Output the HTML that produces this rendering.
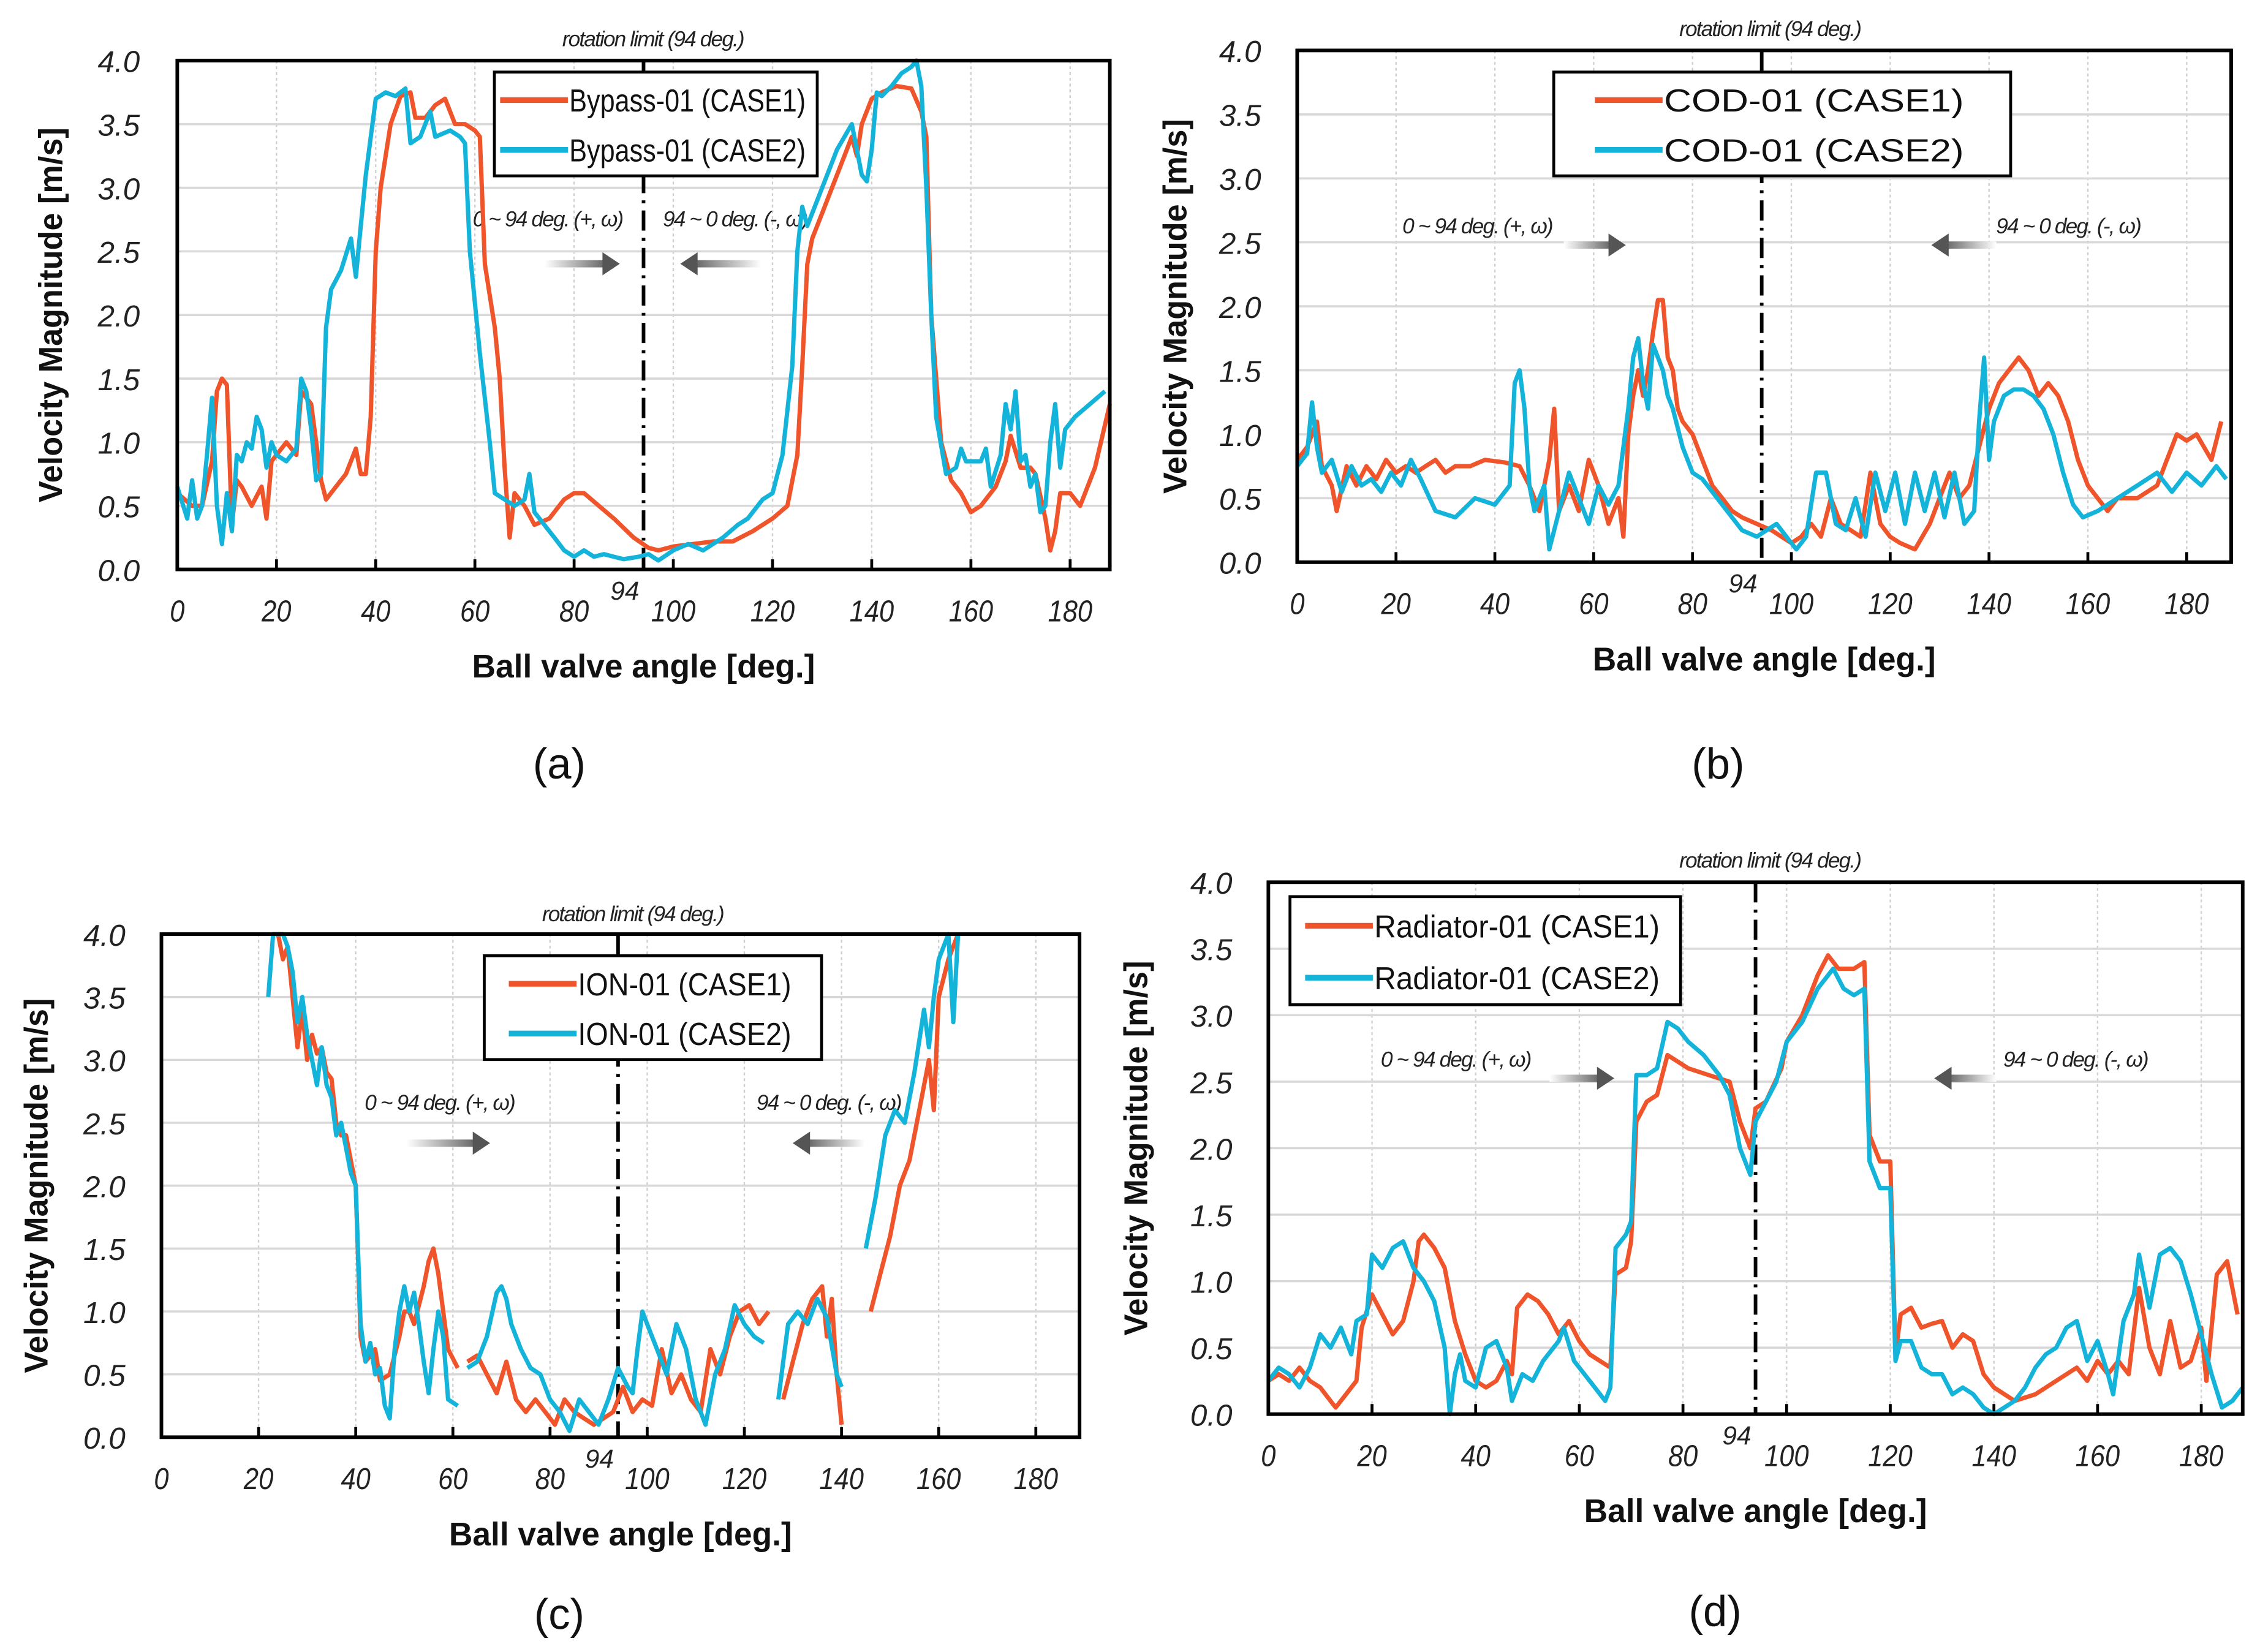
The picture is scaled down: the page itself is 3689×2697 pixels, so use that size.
<!DOCTYPE html>
<html><head><meta charset="utf-8">
<style>
html,body{margin:0;padding:0;background:#fff;}
svg{display:block;}
text{font-family:"Liberation Sans",sans-serif;}
</style></head>
<body>
<svg id="fig" xmlns="http://www.w3.org/2000/svg" width="3689" height="2697" viewBox="0 0 1568 1146" preserveAspectRatio="none"></svg>
<script>
// ---- data arrays ----
const xTicks = [0,20,40,60,80,100,120,140,160,180];
const xTickLabels = ["0","20","40","60","80","100","120","140","160","180"];
const yTicks = [0,0.5,1,1.5,2,2.5,3,3.5,4];
const yTickLabels = ["0.0","0.5","1.0","1.5","2.0","2.5","3.0","3.5","4.0"];
const limitAngle = 94;

const aX1 = [0,3,5,7,8,9,10,11,12,13,15,17,18,19,20,22,24,25,27,29,30,32,34,36,37,38,39,40,41,43,45,47,48,50,52,54,56,58,60,61,62,64,65,66,67,68,70,72,75,78,80,82,85,88,92,95,97,100,104,108,112,116,120,123,125,126,127,128,130,133,136,137,138,140,142,145,148,150,151,152,154,156,158,160,162,165,167,168,170,172,173,175,176,177,178,180,182,185,188];
const aY1 = [0.6,0.5,0.5,0.85,1.4,1.5,1.45,0.35,0.7,0.65,0.5,0.65,0.4,0.85,0.9,1.0,0.9,1.4,1.3,0.7,0.55,0.65,0.75,0.95,0.75,0.75,1.2,2.5,3.0,3.5,3.72,3.75,3.55,3.55,3.65,3.7,3.5,3.5,3.45,3.4,2.4,1.9,1.5,0.8,0.25,0.6,0.5,0.35,0.4,0.55,0.6,0.6,0.5,0.4,0.25,0.17,0.15,0.18,0.2,0.22,0.22,0.3,0.4,0.5,0.9,1.6,2.4,2.6,2.8,3.1,3.4,3.25,3.5,3.7,3.75,3.8,3.78,3.6,3.4,2.0,1.0,0.7,0.6,0.45,0.5,0.65,0.85,1.05,0.8,0.8,0.75,0.4,0.15,0.3,0.6,0.6,0.5,0.8,1.3];
const aX2 = [0,2,3,4,5,6,7,8,9,10,11,12,13,14,15,16,17,18,19,20,22,24,25,26,27,28,29,30,31,33,35,36,37,38,40,42,44,46,47,49,51,52,55,57,58,59,61,63,64,66,68,70,71,72,74,76,78,80,82,84,86,88,90,93,95,97,100,103,106,110,113,115,118,120,122,124,125,126,127,128,130,133,136,137,138,139,140,141,142,144,146,148,149,150,151,152,153,155,157,158,159,160,162,163,164,166,167,168,169,170,171,172,173,174,175,176,177,178,179,181,184,187];
const aY2 = [0.65,0.4,0.7,0.4,0.5,0.9,1.35,0.5,0.2,0.6,0.3,0.9,0.85,1.0,0.95,1.2,1.1,0.8,1.0,0.9,0.85,0.95,1.5,1.4,1.1,0.7,0.75,1.9,2.2,2.35,2.6,2.3,2.7,3.1,3.7,3.75,3.72,3.78,3.35,3.4,3.6,3.4,3.45,3.4,3.35,2.5,1.7,1.0,0.6,0.55,0.5,0.55,0.75,0.45,0.35,0.25,0.15,0.1,0.15,0.1,0.12,0.1,0.08,0.1,0.12,0.07,0.15,0.2,0.15,0.25,0.35,0.4,0.55,0.6,0.9,1.6,2.5,2.85,2.7,2.8,3.0,3.3,3.5,3.3,3.1,3.05,3.3,3.75,3.72,3.8,3.9,3.95,4.0,3.8,3.0,2.0,1.2,0.75,0.8,0.95,0.85,0.85,0.85,0.95,0.65,0.9,1.3,1.1,1.4,0.85,0.9,0.65,0.75,0.45,0.5,1.0,1.3,0.8,1.1,1.2,1.3,1.4];

const bX1 = [0,2,4,5,7,8,10,12,14,16,18,20,22,24,26,28,30,32,35,38,42,45,47,49,51,52,53,55,57,59,61,63,65,66,67,68,69,70,71,72,73,74,75,76,77,78,80,82,84,86,88,90,93,96,98,100,102,104,106,108,110,112,114,116,118,120,122,125,128,130,132,134,136,138,140,142,144,146,148,150,152,154,156,158,160,162,164,166,170,174,176,178,180,182,185,187];
const bY1 = [0.8,0.9,1.1,0.75,0.6,0.4,0.75,0.6,0.75,0.65,0.8,0.7,0.75,0.7,0.75,0.8,0.7,0.75,0.75,0.8,0.78,0.75,0.6,0.4,0.8,1.2,0.4,0.6,0.4,0.8,0.6,0.3,0.5,0.2,1.0,1.3,1.5,1.3,1.5,1.8,2.05,2.05,1.6,1.5,1.2,1.1,1.0,0.8,0.6,0.5,0.4,0.35,0.3,0.25,0.2,0.15,0.2,0.3,0.2,0.5,0.3,0.25,0.2,0.7,0.3,0.2,0.15,0.1,0.3,0.5,0.7,0.5,0.6,0.9,1.2,1.4,1.5,1.6,1.5,1.3,1.4,1.3,1.1,0.8,0.6,0.5,0.4,0.5,0.5,0.6,0.8,1.0,0.95,1.0,0.8,1.1];
const bX2 = [0,2,3,4,5,7,9,11,13,15,17,19,21,23,25,28,32,36,40,43,44,45,46,47,48,50,51,53,55,57,59,61,63,65,67,68,69,70,71,72,73,74,75,76,78,80,82,85,88,90,93,95,97,99,101,103,105,107,109,111,113,115,117,119,121,123,125,127,129,131,133,135,137,138,139,140,141,143,145,147,149,151,153,155,157,159,162,166,170,174,177,180,183,186,188];
const bY2 = [0.75,0.85,1.25,0.9,0.7,0.8,0.55,0.75,0.6,0.65,0.55,0.7,0.6,0.8,0.65,0.4,0.35,0.5,0.45,0.6,1.4,1.5,1.2,0.6,0.4,0.6,0.1,0.4,0.7,0.5,0.3,0.6,0.45,0.6,1.2,1.6,1.75,1.4,1.2,1.7,1.6,1.5,1.3,1.2,0.9,0.7,0.65,0.5,0.35,0.25,0.2,0.25,0.3,0.2,0.1,0.2,0.7,0.7,0.3,0.25,0.5,0.2,0.7,0.4,0.7,0.3,0.7,0.4,0.7,0.35,0.7,0.3,0.4,1.1,1.6,0.8,1.1,1.3,1.35,1.35,1.3,1.2,1.0,0.7,0.45,0.35,0.4,0.5,0.6,0.7,0.55,0.7,0.6,0.75,0.65];

const cX1 = [24,25,26,27,28,29,30,31,32,33,34,35,36,37,38,39,40,41,42,44,45,47,49,50,51,52,54,55,56,57,58,59,61,null,63,65,67,69,71,73,75,77,79,81,83,85,87,89,91,93,95,96,97,99,101,103,105,107,109,111,113,115,117,119,121,123,125,null,128,130,132,134,136,137,138,139,140,null,146,148,150,152,154,156,158,159,160,162,164];
const cY1 = [4.0,3.8,3.9,3.5,3.1,3.4,3.0,3.2,3.05,3.1,2.9,2.85,2.5,2.4,2.4,2.2,2.0,0.8,0.6,0.7,0.45,0.5,0.8,1.0,1.0,0.9,1.2,1.4,1.5,1.3,1.0,0.7,0.55,null,0.6,0.65,0.5,0.35,0.6,0.3,0.2,0.3,0.2,0.1,0.3,0.2,0.15,0.1,0.15,0.2,0.4,0.3,0.2,0.3,0.25,0.7,0.35,0.5,0.3,0.2,0.7,0.5,0.8,1.0,1.05,0.9,1.0,null,0.3,0.6,0.9,1.1,1.2,0.8,1.1,0.5,0.1,null,1.0,1.3,1.6,2.0,2.2,2.6,3.0,2.6,3.5,3.8,4.0];
const cX2 = [22,23,25,26,27,28,29,30,31,32,33,34,35,36,37,38,39,40,41,42,43,44,45,46,47,48,49,50,51,52,53,54,55,56,57,58,59,61,null,63,65,67,69,70,71,72,74,76,78,80,82,84,86,88,90,92,94,96,97,98,99,100,102,104,106,108,110,112,114,116,118,120,122,124,null,127,129,131,133,135,137,139,140,null,145,147,149,151,153,155,157,158,159,160,162,163,164];
const cY2 = [3.5,4.0,4.0,3.9,3.7,3.3,3.5,3.2,3.0,2.8,3.1,2.8,2.7,2.4,2.5,2.3,2.1,2.0,0.9,0.6,0.75,0.5,0.55,0.25,0.15,0.7,1.0,1.2,1.0,1.15,0.9,0.6,0.35,0.7,1.0,0.8,0.3,0.25,null,0.55,0.6,0.8,1.15,1.2,1.1,0.9,0.7,0.55,0.5,0.3,0.2,0.05,0.3,0.2,0.1,0.3,0.55,0.4,0.35,0.7,1.0,0.9,0.7,0.5,0.9,0.7,0.3,0.1,0.5,0.7,1.05,0.9,0.8,0.75,null,0.3,0.9,1.0,0.9,1.1,0.95,0.5,0.4,null,1.5,1.9,2.4,2.6,2.5,2.9,3.4,3.1,3.5,3.8,4.0,3.3,4.0];

const dX1 = [0,2,4,6,8,10,12,13,15,17,18,20,22,24,26,28,29,30,32,34,36,38,40,42,44,46,47,48,50,52,54,56,58,60,62,64,66,67,69,70,71,73,75,77,79,81,85,89,91,93,94,96,99,100,103,106,108,110,113,115,116,118,120,121,122,124,126,128,130,132,134,136,138,140,144,148,152,156,158,160,162,164,166,168,170,172,174,176,178,180,181,183,185,187];
const dY1 = [0.25,0.3,0.25,0.35,0.25,0.2,0.1,0.05,0.15,0.25,0.65,0.9,0.75,0.6,0.7,1.0,1.3,1.35,1.25,1.1,0.7,0.45,0.25,0.2,0.25,0.4,0.3,0.8,0.9,0.85,0.75,0.6,0.7,0.55,0.45,0.4,0.35,1.05,1.1,1.3,2.2,2.35,2.4,2.7,2.65,2.6,2.55,2.5,2.2,2.0,2.3,2.35,2.6,2.8,3.0,3.3,3.45,3.35,3.35,3.4,2.1,1.9,1.9,0.45,0.75,0.8,0.65,0.68,0.7,0.5,0.6,0.55,0.3,0.2,0.1,0.15,0.25,0.35,0.25,0.4,0.3,0.4,0.3,0.95,0.5,0.3,0.7,0.35,0.4,0.65,0.25,1.05,1.15,0.75];
const dX2 = [0,2,4,6,8,10,12,14,16,17,19,20,22,24,26,28,30,32,34,35,36,37,38,40,42,44,46,47,49,51,53,56,57,59,61,63,65,66,67,69,70,71,73,75,77,79,81,84,87,89,91,93,94,96,98,100,103,106,109,111,113,115,116,118,120,121,122,124,126,128,130,132,134,136,138,140,142,144,146,148,150,152,154,156,158,160,162,163,165,167,168,170,172,174,176,178,180,182,184,186,188];
const dY2 = [0.25,0.35,0.3,0.2,0.35,0.6,0.5,0.65,0.45,0.7,0.75,1.2,1.1,1.25,1.3,1.1,1.0,0.85,0.5,0.0,0.3,0.45,0.25,0.2,0.5,0.55,0.35,0.1,0.3,0.25,0.4,0.55,0.65,0.4,0.3,0.2,0.1,0.2,1.25,1.35,1.45,2.55,2.55,2.6,2.95,2.9,2.8,2.7,2.55,2.4,2.0,1.8,2.2,2.35,2.5,2.8,2.95,3.2,3.35,3.2,3.15,3.2,1.9,1.7,1.7,0.4,0.55,0.55,0.35,0.3,0.3,0.15,0.2,0.15,0.05,0.0,0.05,0.1,0.2,0.35,0.45,0.5,0.65,0.7,0.4,0.55,0.3,0.15,0.7,0.9,1.2,0.8,1.2,1.25,1.15,0.9,0.6,0.3,0.05,0.1,0.2];

const panelLetters = ["(a)","(b)","(c)","(d)"];
const legendNames = ["Bypass-01","COD-01","ION-01","Radiator-01"];

// ---- drawing ----
const NS = "http://www.w3.org/2000/svg";
const svg = document.getElementById('fig');
function mk(tag, attrs, parent){ const e=document.createElementNS(NS,tag); for(const k in attrs) e.setAttribute(k,attrs[k]); (parent||svg).appendChild(e); return e; }

const panels = [
 {l:123,r:770,t:42,b:395,xmax:188,xs:aX1,ys:aY1,xs2:aX2,ys2:aY2,leg:[343,50,224,72],tl:164,lab:[388,540],ytl:97,ytitle:35,rot:[453,32],ann1:[380,157,378,430,183],ann2:[510,157,528,472,183]},
 {l:900,r:1548,t:35,b:390,xmax:189,xs:bX1,ys:bY1,xs2:bX2,ys2:bY2,leg:[1078,50,317,72],tl:208,lab:[1192,540],ytl:875,ytitle:815,rot:[1228,25],ann1:[1025,162,1085,1128,170],ann2:[1435,162,1385,1340,170]},
 {l:112,r:749,t:648,b:997,xmax:189,xs:cX1,ys:cY1,xs2:cX2,ys2:cY2,leg:[336,663,234,72],tl:148,lab:[388,1130],ytl:87,ytitle:25,rot:[439,639],ann1:[305,770,282,340,793],ann2:[575,770,600,550,793]},
 {l:880,r:1556,t:612,b:981,xmax:188,xs:dX1,ys:dY1,xs2:dX2,ys2:dY2,leg:[895,622,271,75],tl:198,lab:[1190,1128],ytl:855,ytitle:788,rot:[1228,602],ann1:[1010,740,1075,1120,748],ann2:[1440,740,1385,1342,748]}
];

const defs = mk('defs',{});
const grad = mk('linearGradient',{id:'ag',x1:'0',x2:'1',y1:'0',y2:'0'},defs);
mk('stop',{offset:'0','stop-color':'#fff'},grad);
mk('stop',{offset:'1','stop-color':'#666'},grad);

panels.forEach((p,i)=>{
  const g = mk('g',{});
  
  
  const sx = v => p.l + v/p.xmax*(p.r-p.l);
  const sy = v => p.b - v/4*(p.b-p.t);
  xTicks.forEach((v,k)=>{ if(v===0) return; const ln=mk('line',{x1:sx(v),x2:sx(v),y1:p.t,y2:p.b,stroke:'#cfcfcf','stroke-width':1,'stroke-dasharray':'2 2'},g);
      });
  yTicks.forEach(v=>{ if(v===0||v===4) return; const ln=mk('line',{x1:p.l,x2:p.r,y1:sy(v),y2:sy(v),stroke:'#d8d8d8','stroke-width':1.5},g);
      });
  xTicks.forEach((v,k)=>{
    mk('line',{x1:sx(v),x2:sx(v),y1:p.b,y2:p.b-7,stroke:'#000','stroke-width':2},g);
    const t=mk('text',{x:sx(v),y:p.b+36,'font-size':21,'font-style':'italic','text-anchor':'middle',fill:'#222',transform:`translate(${sx(v)*0.12},0) scale(0.88,1)`},g);
    t.textContent=xTickLabels[k];
     
  });
  yTicks.forEach((v,k)=>{
    const t=mk('text',{x:p.ytl,y:sy(v)+8,'font-size':21,'font-style':'italic','text-anchor':'end',fill:'#222'},g);
    t.textContent=yTickLabels[k];
     
  });
  const lim=mk('line',{x1:sx(limitAngle),x2:sx(limitAngle),y1:p.t,y2:p.b,stroke:'#000','stroke-width':2.5,'stroke-dasharray':'14 5 2 5'},g);
   
  const l94=mk('text',{x:sx(limitAngle)-3,y:p.b+21,'font-size':18,'font-style':'italic','text-anchor':'end',fill:'#222'},g);
  l94.textContent='94';  
  const rt=mk('text',{x:p.rot[0],y:p.rot[1],'font-size':15,'font-style':'italic','text-anchor':'middle',fill:'#222','letter-spacing':'-0.8'},g);
  rt.textContent='rotation limit (94 deg.)';  
  [p.ann1,p.ann2].forEach((a,k)=>{
    const t=mk('text',{x:a[0],y:a[1],'font-size':15,'font-style':'italic','text-anchor':'middle',fill:'#222','letter-spacing':'-0.8'},g);
    t.textContent = k===0 ? '0 ~ 94 deg. (+, ω)' : '94 ~ 0 deg. (-, ω)';
     
    const dir = a[3]>a[2]?1:-1;
    const ag=mk('g',{},g);
     
    const x0=a[2], x1=a[3]-dir*10;
    if(dir>0){ mk('rect',{x:x0,y:a[4]-2.5,width:x1-x0,height:5,fill:'url(#ag)'},ag); }
    else { mk('rect',{x:x1,y:a[4]-2.5,width:x0-x1,height:5,fill:'url(#ag)',transform:`translate(${x0+x1},0) scale(-1,1)`},ag); }
    mk('polygon',{points:`${a[3]},${a[4]} ${a[3]-dir*12},${a[4]-8} ${a[3]-dir*12},${a[4]+8}`,fill:'#555'},ag);
  });
  function path(xs,ys){ let d='',pen=false; for(let j=0;j<xs.length;j++){ if(xs[j]===null){pen=false;continue;} d+=(pen?'L':'M')+sx(xs[j]).toFixed(1)+','+sy(ys[j]).toFixed(1); pen=true;} return d; }
  const s1=mk('path',{d:path(p.xs,p.ys),fill:'none',stroke:'#f0542a','stroke-width':3,'stroke-linejoin':'round'},g);
   
  const s2=mk('path',{d:path(p.xs2,p.ys2),fill:'none',stroke:'#14b4da','stroke-width':3,'stroke-linejoin':'round'},g);
   
  const fr=mk('rect',{x:p.l,y:p.t,width:p.r-p.l,height:p.b-p.t,fill:'none',stroke:'#000','stroke-width':2.5},g);
   
  const L=p.leg;
  const lg=mk('g',{},g);  
  mk('rect',{x:L[0],y:L[1],width:L[2],height:L[3],fill:'#fff',stroke:'#000','stroke-width':2},lg);
  [['CASE1','#f0542a'],['CASE2','#14b4da']].forEach((c,k)=>{
    const yy=L[1]+L[3]*(k===0?0.27:0.75);
    const textStart = L[0]+(L[2]-p.tl)/2+22;
    const le=mk('g',{},lg);  
    mk('line',{x1:textStart-48,x2:textStart-1,y1:yy,y2:yy,stroke:c[1],'stroke-width':4},le);
    const t=mk('text',{x:textStart,y:yy+8,'font-size':22,fill:'#111',textLength:p.tl,lengthAdjust:'spacingAndGlyphs'},le);
    t.textContent=legendNames[i]+' ('+c[0]+')';
  });
  const xt=mk('text',{x:(p.l+p.r)/2,y:p.b+75,'font-size':23,'font-weight':'bold','text-anchor':'middle',fill:'#111',textLength:238,lengthAdjust:'spacingAndGlyphs'},g);
  xt.textContent='Ball valve angle [deg.]';  
  const yc=(p.t+p.b)/2;
  const yt=mk('text',{x:p.ytitle,y:yc,'font-size':23,'font-weight':'bold','text-anchor':'middle',fill:'#111',transform:`rotate(-90 ${p.ytitle} ${yc})`,dy:8,textLength:260,lengthAdjust:'spacingAndGlyphs'},g);
  yt.textContent='Velocity Magnitude [m/s]';  
  const pl=mk('text',{x:p.lab[0],y:p.lab[1],'font-size':30,'text-anchor':'middle',fill:'#111','font-family':'"Liberation Serif",serif'},g);
  pl.textContent=panelLetters[i];  
});
</script>
</body></html>
